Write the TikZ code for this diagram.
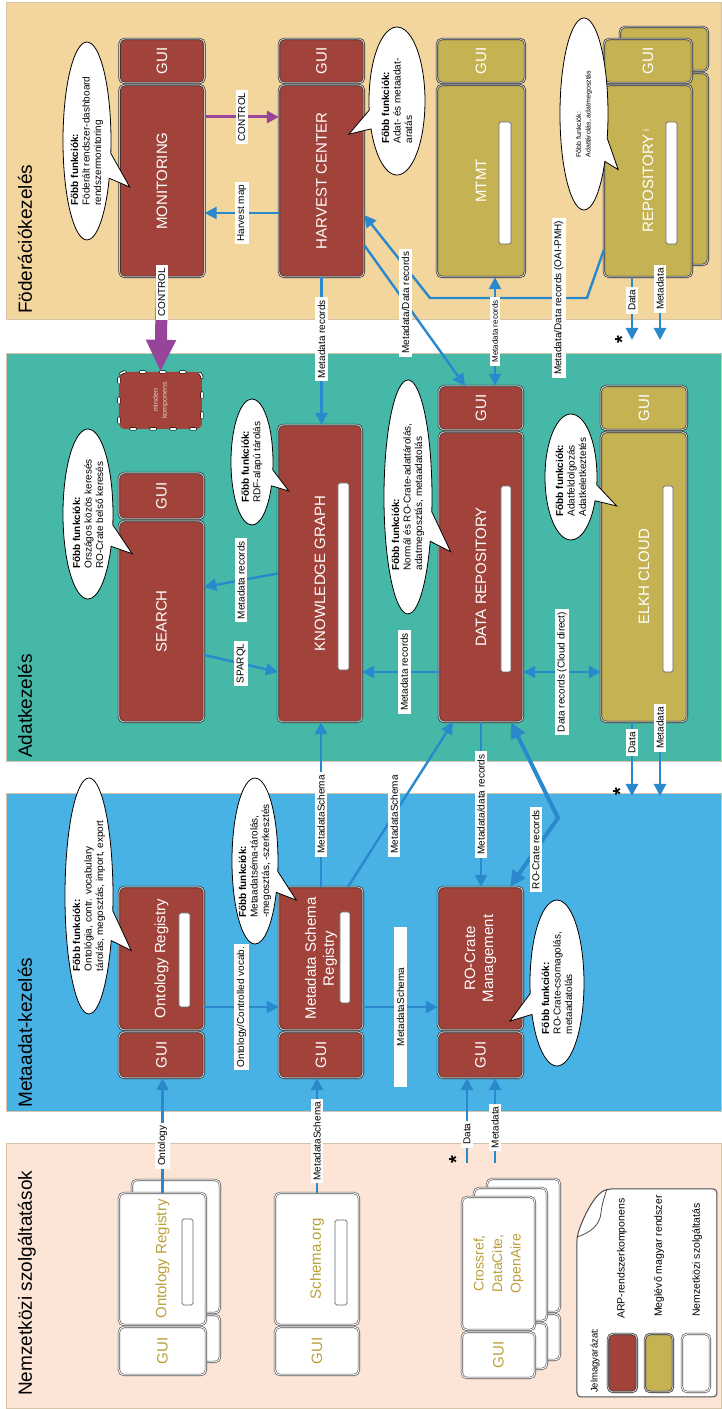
\documentclass[tikz,border=0pt]{standalone}
\usepackage{fontspec}
\setmainfont{Liberation Sans}
\usepackage{tikz}
\usetikzlibrary{arrows.meta,calc,shapes.callouts}

\definecolor{arpred}{RGB}{161,67,58}
\definecolor{hungold}{RGB}{197,178,83}
\definecolor{intlgold}{RGB}{186,160,56}
\definecolor{fedband}{RGB}{243,213,158}
\definecolor{databand}{RGB}{69,184,167}
\definecolor{metaband}{RGB}{72,178,228}
\definecolor{intlband}{RGB}{252,228,214}
\definecolor{bandline}{RGB}{214,196,170}
\definecolor{linkblue}{RGB}{42,137,204}
\definecolor{ctrlpurple}{RGB}{150,69,155}

\tikzset{
  comp/.style={rectangle, rounded corners=2.5pt, draw=black!85, line width=0.3pt,
    double=white!80!black, double distance=0.5pt, minimum height=85pt,
    inner sep=0pt, align=center, font=\fontsize{15}{18}\selectfont},
  arp/.style={comp, fill=arpred, text=white},
  hun/.style={comp, fill=hungold, text=white},
  intl/.style={comp, fill=white, draw=black!70, double=white, text=intlgold},
  anycomp/.style={rectangle, rounded corners=3pt, fill=arpred, draw=black, line width=0.35pt,
    double=white, double distance=0.8pt, dash pattern=on 2.5pt off 7.5pt, line cap=round,
    minimum width=57pt, minimum height=83pt, align=center,
    font=\fontsize{7}{9}\selectfont, text=arpred!25!white},
  slot/.style={fill=white, draw=black!60, line width=0.3pt, rounded corners=0.8pt},
  band/.style={draw=bandline, line width=0.5pt},
  sectitle/.style={font=\fontsize{19}{22}\selectfont, inner sep=0pt, anchor=base west},
  datalink/.style={draw=linkblue, line width=1.2pt, -{Triangle[length=6pt,width=6pt]}},
  twoway/.style={datalink, {Triangle[length=6pt,width=6pt]}-{Triangle[length=6pt,width=6pt]}},
  cratelink/.style={draw=linkblue, line width=2pt, {Triangle[length=8pt,width=7.5pt]}-{Triangle[length=8pt,width=7.5pt]}},
  ctrl/.style={draw=ctrlpurple, line width=1.5pt, -{Triangle[length=6pt,width=6pt]}},
  bigctrl/.style={draw=ctrlpurple, line width=6pt, -{Triangle[length=16pt,width=14pt]}},
  tag/.style={fill=white, text=black, inner xsep=3pt, inner ysep=2.5pt, font=\fontsize{10}{12}\selectfont},
  bubble/.style={ellipse callout, draw=black, line width=0.4pt, fill=white, inner sep=0pt,
    align=left, font=\fontsize{10}{11.5}\selectfont},
  starmark/.style={font=\fontsize{20}{20}\selectfont\bfseries, inner sep=0pt},
  keytext/.style={font=\fontsize{10.5}{12}\selectfont, inner sep=0pt, anchor=west}
}

\begin{document}
\begin{tikzpicture}[x=1pt, y=1pt, scale=0.5, rotate=90, transform shape]

  \useasboundingbox (0,0) rectangle (1409,722);

  % bands
  \filldraw[band, fill=intlband] (0,0) rectangle (265,715);
  \filldraw[band, fill=metaband] (297,0) rectangle (615,715);
  \filldraw[band, fill=databand] (647,0) rectangle (1055,715);
  \filldraw[band, fill=fedband] (1089,0) rectangle (1406,715);

  \node[sectitle] (fedtitle) at (1095,690) {Föderációkezelés};
  \node[sectitle] (datatitle) at (651,690) {Adatkezelés};
  \node[sectitle] (metatitle) at (301,690) {Metaadat-kezelés};
  \node[sectitle] (intltitle) at (13,690) {Nemzetközi szolgáltatások};

  % Föderációkezelés
  \node[arp, minimum width=192pt] (mon) at (1228,560) {MONITORING};
  \node[arp, minimum width=44pt] (mongui) at (1348,560) {GUI};
  \node[arp, minimum width=192pt] (hc) at (1228,400.5) {HARVEST CENTER};
  \node[arp, minimum width=44pt] (hcgui) at (1348,400.5) {GUI};
  \node[hun, minimum width=192pt, minimum height=88pt] (mtmt) at (1228,241) {MTMT};
  \node[hun, minimum width=44pt, minimum height=88pt] (mtmtgui) at (1348,241) {GUI};
  \node[hun, minimum width=192pt, minimum height=88pt] (reposh) at (1240,58) {};
  \node[hun, minimum width=44pt, minimum height=88pt] (reposhgui) at (1360,58) {};
  \node[hun, minimum width=192pt, minimum height=88pt] (repo) at (1228,74) {REPOSITORY\,\raisebox{4pt}{\fontsize{9}{9}\selectfont i}};
  \node[hun, minimum width=44pt, minimum height=88pt] (repogui) at (1348,74) {GUI};
  \draw[slot] (1165,211) rectangle (1287,223);
  \draw[slot] (1165,45) rectangle (1287,56);

  % Adatkezelés
  \node[anycomp] (minden) at (1008.5,561.5) {minden\\komponens};
  \node[arp, minimum width=201pt] (search) at (787.5,560.5) {SEARCH};
  \node[arp, minimum width=46pt] (searchgui) at (913,560.5) {GUI};
  \node[arp, minimum width=297pt, minimum height=84pt] (kg) at (835.5,402) {KNOWLEDGE GRAPH};
  \node[arp, minimum width=290pt, minimum height=84pt] (dr) at (832,241) {DATA REPOSITORY};
  \node[arp, minimum width=44pt, minimum height=84pt] (drgui) at (1001,241) {GUI};
  \node[hun, minimum width=290pt, minimum height=86pt] (elkh) at (832,78) {ELKH CLOUD};
  \node[hun, minimum width=44pt, minimum height=86pt] (elkhgui) at (1001,78) {GUI};
  \draw[slot] (739,373) rectangle (926,384);
  \draw[slot] (737,211) rectangle (923,221);
  \draw[slot] (737,49) rectangle (923,59);

  % Metaadat-kezelés
  \node[arp, minimum width=143pt] (ontreg) at (450.5,560.5) {Ontology Registry};
  \node[arp, minimum width=46pt] (orgui) at (354,560.5) {GUI};
  \node[arp, minimum width=143pt, minimum height=84pt] (msr) at (450.5,401) {Metadata Schema\\Registry};
  \node[arp, minimum width=46pt, minimum height=84pt] (msrgui) at (354,401) {GUI};
  \node[arp, minimum width=143pt] (roc) at (450.5,241.5) {RO-Crate\\Management};
  \node[arp, minimum width=46pt] (rocgui) at (354,241.5) {GUI};
  \draw[slot] (402,532) rectangle (496,543);
  \draw[slot] (406,372) rectangle (497,382);

  % Nemzetközi szolgáltatások
  \node[intl, minimum width=133pt, minimum height=88pt] (iorsh) at (162.5,546) {};
  \node[intl, minimum width=47pt, minimum height=88pt] (iorshgui) at (70.5,546) {};
  \node[intl, minimum width=132pt, minimum height=87pt] (ior) at (150,559.5) {Ontology Registry};
  \node[intl, minimum width=48pt, minimum height=87pt] (iorgui) at (58,559.5) {GUI};
  \node[intl, minimum width=132pt, minimum height=84pt] (schema) at (150,405) {Schema.org};
  \node[intl, minimum width=48pt, minimum height=84pt] (schemagui) at (58,405) {GUI};
  \draw[slot] (104,529) rectangle (190,540);
  \draw[slot] (104,375) rectangle (189,387);
  \node[intl, minimum width=133pt, minimum height=73pt] (crsh2) at (163.5,198.5) {};
  \node[intl, minimum width=46pt, minimum height=73pt] (crsh2gui) at (72,198.5) {};
  \node[intl, minimum width=133pt, minimum height=73pt] (crsh1) at (154.5,211.5) {};
  \node[intl, minimum width=46pt, minimum height=73pt] (crsh1gui) at (63,211.5) {};
  \node[intl, minimum width=133pt, minimum height=73pt, font=\fontsize{14}{18.5}\selectfont] (crossref) at (145.5,223.5) {Crossref,\\DataCite,\\OpenAire};
  \node[intl, minimum width=46pt, minimum height=73pt] (crossrefgui) at (54,223.5) {GUI};

  \coordinate (repodata) at (1069,90);
  \coordinate (repometa) at (1069,62);
  \coordinate (elkhdata) at (613,90);
  \coordinate (elkhmeta) at (613,62);
  \coordinate (rocdata) at (246,255);
  \coordinate (rocmeta) at (246,227);
  \coordinate (oaibend1) at (1111,135);
  \coordinate (oaibend2) at (1111,292);
  \coordinate (rocbend) at (591,164);

  % links
  \draw[ctrl] ($(mon.south)+(64,0)$) -- node[tag]{CONTROL} ($(hc.north)+(64,0)$);
  \draw[datalink] ($(hc.north)+(-32,0)$) -- node[tag]{Harvest map} ($(mon.south)+(-32,0)$);
  \draw[bigctrl] (mon.west) -- node[tag, pos=0.16]{CONTROL} (minden.east);
  \draw[datalink] (hc.west) -- node[tag, pos=0.42]{Metadata records} (hc.west -| kg.east);
  \draw[datalink] ($(repo.north)+(-69,0)$) -- (oaibend1) -- node[tag, pos=0.18]{Metadata/Data records (OAI-PMH)} (oaibend2) -- ($(hc.south)+(-34,0)$);
  \draw[datalink] ($(hc.south)+(-64,0)$) -- node[tag, pos=0.41]{Metadata/Data records} ($(drgui.east)+(0,16)$);
  \draw[twoway] ($(mtmt.west)+(0,-14)$) -- node[tag, font=\fontsize{8}{10}\selectfont]{Metadata records} ($(drgui.east)+(0,-14)$);
  \draw[datalink] ($(repo.west)+(0,16)$) -- node[tag, pos=0.37]{Data} (repodata);
  \draw[datalink] ($(repo.west)+(0,-12)$) -- node[tag, pos=0.19]{Metadata} (repometa);

  \draw[datalink] (kg.north) -- node[tag]{Metadata records} ($(search.south)+(34.5,0)$);
  \draw[datalink] ($(search.south)+(-33.5,0)$) -- node[tag]{SPARQL} ($(kg.north)+(-98.5,0)$);
  \draw[datalink] ($(dr.north)+(-95,0)$) -- node[tag, pos=0.45]{Metadata records} ($(kg.south)+(-98.5,0)$);
  \draw[twoway] ($(dr.south)+(-95,0)$) -- node[tag]{Data records (Cloud direct)} ($(elkh.north)+(-95,0)$);
  \draw[datalink] ($(elkh.west)+(0,12)$) -- node[tag, pos=0.28]{Data} (elkhdata);
  \draw[datalink] ($(elkh.west)+(0,-16)$) -- node[tag, pos=0.08]{Metadata} (elkhmeta);

  \draw[datalink] (ior.east) -- node[tag, pos=0.41]{Ontology} (ior.east -| orgui.west);
  \draw[datalink] (schema.east) -- node[tag, pos=0.45]{MetadataSchema} (schema.east -| msrgui.west);
  \draw[datalink] ($(ontreg.south)+(-48.5,0)$) -- node[tag]{Ontology/Controlled vocab.} ($(msr.north)+(-48.5,0)$);
  \draw[datalink] ($(msr.south)+(-48.5,0)$) -- node[tag, minimum width=160pt]{MetadataSchema} ($(roc.north)+(-48.5,0)$);
  \draw[datalink] (msr.east) -- node[tag, pos=0.44]{MetadataSchema} (msr.east -| kg.west);
  \draw[datalink] ($(msr.east)+(0,-27)$) -- node[tag, pos=0.44]{MetadataSchema} ($(dr.west)+(0,28)$);
  \draw[datalink] (dr.west) -- node[tag]{Metadata/data records} (dr.west -| roc.east);
  \draw[cratelink] ($(dr.west)+(0,-30)$) -- (rocbend) -- node[tag, pos=0.46]{RO-Crate records} ($(roc.east)+(0,-29.5)$);
  \draw[datalink] (rocdata) -- node[tag, pos=0.34]{Data} ($(rocgui.west)+(0,13.5)$);
  \draw[datalink] (rocmeta) -- node[tag, pos=0.42]{Metadata} ($(rocgui.west)+(0,-14.5)$);

  % bubbles
  \node[bubble, minimum width=198pt, minimum height=48pt, callout relative pointer={(-21,-19.5)}] (monfn) at (1268,635) {\textbf{Főbb funkciók:}\\Föderált rendszer-dashboard\\rendszermonitoring};
  \node[bubble, minimum width=148pt, minimum height=56pt, callout relative pointer={(-14.5,21)}] (hcfn) at (1308,325) {\textbf{Főbb funkciók:}\\Adat- és metaadat-\\aratás};
  \node[bubble, minimum width=192pt, minimum height=48pt, font=\fontsize{7}{9.5}\selectfont, callout relative pointer={(-19.5,-12)}] (repofn) at (1295,138) {Főbb funkciók:\\Adattárolás, adatmegosztás};
  \node[bubble, minimum width=170pt, minimum height=50pt, callout relative pointer={(-18,-20)}] (searchfn) at (895,634) {\textbf{Főbb funkciók:}\\Országos közös keresés\\RO-Crate belső keresés};
  \node[bubble, minimum width=126pt, minimum height=42pt, callout relative pointer={(-13,-16.5)}] (kgfn) at (947,470) {\textbf{Főbb funkciók:}\\RDF-alapú tárolás};
  \node[bubble, minimum width=234pt, minimum height=48pt, callout relative pointer={(-25,-19.5)}] (drfn) at (912,314) {\textbf{Főbb funkciók:}\\Normál és RO-Crate-adattárolás,\\adatmegosztás, metaadatolás};
  \node[bubble, minimum width=126pt, minimum height=52pt, callout relative pointer={(-13,-20.5)}] (elkhfn) at (932,151) {\textbf{Főbb funkciók:}\\Adatfeldolgozás\\Adatkeletkeztetés};
  \node[bubble, minimum width=236pt, minimum height=48pt, callout relative pointer={(-24.5,-19)}] (ontfn) at (513,633) {\textbf{Főbb funkciók:}\\Ontológia, contr. vocabulary\\tárolás, megosztás, import, export};
  \node[bubble, minimum width=166pt, minimum height=46pt, callout relative pointer={(-18,-19)}] (msrfn) at (548,467) {\textbf{Főbb funkciók:}\\Metaadatséma-tárolás,\\-megosztás, -szerkesztés};
  \node[bubble, minimum width=166pt, minimum height=54pt, callout relative pointer={(-17,21)}] (rocfn) at (426,165) {\textbf{Főbb funkciók:}\\RO-Crate-csomagolás,\\metaadatolás};

  \node[starmark] (repostar) at (1069,100) {*};
  \node[starmark] (elkhstar) at (617,102) {*};
  \node[starmark] (rocstar) at (249,266) {*};

  % legend
  \filldraw[draw=black!70, fill=white, line width=0.5pt, rounded corners=2pt]
    (12,5) -- (12,145) -- (172,145) .. controls (186,141) and (212,130) .. (220,115) -- (220,5) -- cycle;
  \draw[black!70, line width=0.4pt] (172,145) .. controls (176,132) and (184,122) .. (196,121) .. controls (206,120) and (214,117) .. (220,115);
  \node[keytext, font=\fontsize{9.5}{11}\selectfont] (keyhead) at (16,127) {Jelmagyarázat:};
  \node[arp, minimum width=58pt, minimum height=29pt] (keyarp) at (46,99.5) {};
  \node[hun, minimum width=58pt, minimum height=28pt] (keyhun) at (46,63) {};
  \node[intl, minimum width=58pt, minimum height=28pt] (keyintl) at (46,26) {};
  \node[keytext] (keyarptext) at (90,100) {ARP-rendszerkomponens};
  \node[keytext] (keyhuntext) at (92,63) {Meglévő magyar rendszer};
  \node[keytext] (keyintltext) at (92,25) {Nemzetközi szolgáltatás};

\end{tikzpicture}
\end{document}
